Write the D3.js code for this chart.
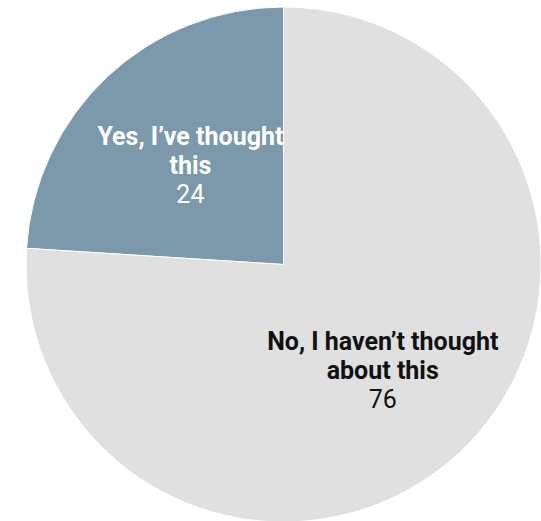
<!DOCTYPE html>
<html><head><meta charset="utf-8">
<script src="https://cdn.jsdelivr.net/npm/d3@7"></script>
<style>body{margin:0;background:#fff}svg{display:block}</style>
</head><body>
<script>
const categories = ["Yes, I\u2019ve thought this", "No, I haven\u2019t thought about this"];
const labelLines = [["Yes, I\u2019ve thought", "this"], ["No, I haven\u2019t thought", "about this"]];
const values = [24, 76];
const colors = ["#7b99aa", "#e0e0e0"];
const textColors = ["#ffffff", "#111111"];

const W = 541, H = 521, cx = 283.5, cy = 264.5, R = 257.5;
const labelR = [136, 145];

const svg = d3.select("body").append("svg").attr("width", W).attr("height", H);
const g = svg.append("g").attr("transform", `translate(${cx},${cy})`);

const total = d3.sum(values);
const start = -values[0] / total * 2 * Math.PI;
const pie = d3.pie().sort(null).value(d => d)
  .startAngle(start).endAngle(2 * Math.PI + start);
const arcs = pie(values);
const arc = d3.arc().innerRadius(0).outerRadius(R);

g.selectAll("path").data(arcs).join("path")
  .attr("d", arc).attr("fill", (d, i) => colors[i])
  .attr("stroke", "#fff").attr("stroke-width", 1);

arcs.forEach((d, i) => {
  const mid = (d.startAngle + d.endAngle) / 2;
  const x = Math.sin(mid) * labelR[i], y = -Math.cos(mid) * labelR[i];
  const t = g.append("text").attr("text-anchor", "middle")
    .attr("font-family", "Roboto, sans-serif").attr("font-size", 25)
    .attr("fill", textColors[i]);
  labelLines[i].forEach((line, j) => {
    t.append("tspan").attr("x", x).attr("y", y - 20 + j * 28.5)
      .attr("font-weight", "bold").text(line);
  });
  t.append("tspan").attr("x", x).attr("y", y - 20 + 2 * 28.5 + 1)
    .attr("font-weight", "normal").text(values[i]);
});
</script>
</body></html>
